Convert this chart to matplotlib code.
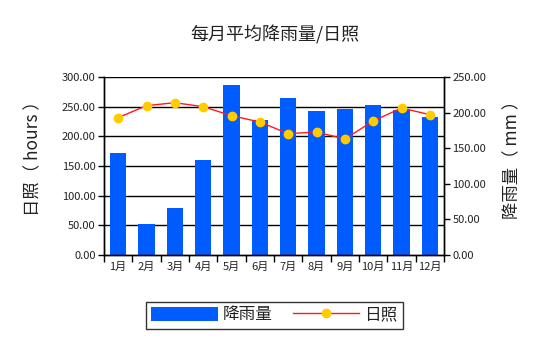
import matplotlib
matplotlib.use("Agg")
import matplotlib.pyplot as plt
from matplotlib.lines import Line2D
from matplotlib.patches import Patch

plt.rcParams['font.family'] = ['Noto Sans CJK SC', 'DejaVu Sans']

months = ['1月', '2月', '3月', '4月', '5月', '6月', '7月', '8月', '9月', '10月', '11月', '12月']
rainfall = [143.3, 43.1, 66.5, 133.9, 239.3, 189.6, 221.0, 202.7, 205.5, 211.1, 203.7, 193.8]
sunshine = [231.5, 251.7, 256.7, 250.0, 234.8, 224.2, 204.5, 207.3, 195.5, 225.8, 247.8, 236.5]

bar_color = '#005CFF'
line_color = '#FF1A1A'
marker_color = '#FFCC00'

fig = plt.figure(figsize=(5.5, 3.47), dpi=100)
ax = fig.add_axes([104/550, 1-255/347, 340/550, 178/347])
ax2 = ax.twinx()

x = list(range(len(months)))
ax2.bar(x, rainfall, width=0.57, color=bar_color, zorder=2)
ax.plot(x, sunshine, color=line_color, lw=1.0, marker='o', markersize=6,
        markerfacecolor=marker_color, markeredgecolor=marker_color, zorder=5)

# line on top of bars
ax.set_zorder(ax2.get_zorder() + 1)
ax.patch.set_visible(False)

ax.set_xlim(-0.5, 11.5)
ax.set_ylim(0, 300)
ax2.set_ylim(0, 250)
ax.set_yticks([0, 50, 100, 150, 200, 250, 300])
ax2.set_yticks([0, 50, 100, 150, 200, 250])
ax.set_yticklabels([f'{v:.2f}' for v in [0, 50, 100, 150, 200, 250, 300]], fontsize=8, color='#222222')
ax2.set_yticklabels([f'{v:.2f}' for v in [0, 50, 100, 150, 200, 250]], fontsize=8, color='#222222')

ax.set_xticks(x)
ax.set_xticklabels(months, fontsize=8, color='#222222')
ax.set_xticks([i - 0.5 for i in range(13)], minor=True)
ax.tick_params(axis='x', which='major', length=0, pad=5)
ax.tick_params(axis='x', which='minor', length=5, width=1, color='black')
ax.tick_params(axis='y', length=4, width=1, color='black', pad=2)
ax2.tick_params(axis='y', length=4, width=1, color='black', pad=2)

# gridlines from left axis, drawn under bars
for v in [50, 100, 150, 200, 250, 300]:
    ax2.axhline(v * 250 / 300, color='black', lw=1.0, zorder=1)

for a in (ax, ax2):
    a.spines['top'].set_visible(False)
    for s in ('left', 'right', 'bottom'):
        a.spines[s].set_color('black')
        a.spines[s].set_linewidth(1.0)

ax.set_ylabel('日照（ hours ）', fontsize=12.5, color='#222222', va='center', ha='center')
ax.yaxis.set_label_coords((33 - 104) / 340, (255 - 154) / 178)
ax2.set_ylabel('降雨量（ mm ）', fontsize=12.5, rotation=90, color='#222222', va='center', ha='center')
ax2.yaxis.set_label_coords((512 - 104) / 340, (255 - 155) / 178)

fig.text(0.5, 1 - 35/347, '每月平均降雨量/日照', ha='center', va='center', fontsize=13, color='#222222')

handles = [Patch(facecolor=bar_color, edgecolor='none'),
           Line2D([0], [0], color=line_color, lw=1.0, marker='o', markersize=6,
                  markerfacecolor=marker_color, markeredgecolor=marker_color)]
leg = fig.legend(handles, ['降雨量', '日照'], loc='center', bbox_to_anchor=(274.5/550, 1-315/347),
                 ncol=2, fontsize=12, frameon=True, fancybox=False, edgecolor='black',
                 handlelength=4.0, handleheight=0.9, handletextpad=0.3, columnspacing=1.2,
                 borderpad=0.3)
leg.get_frame().set_linewidth(1.0)
for t in leg.get_texts():
    t.set_color('#222222')

fig.savefig('out.png', dpi=100)
